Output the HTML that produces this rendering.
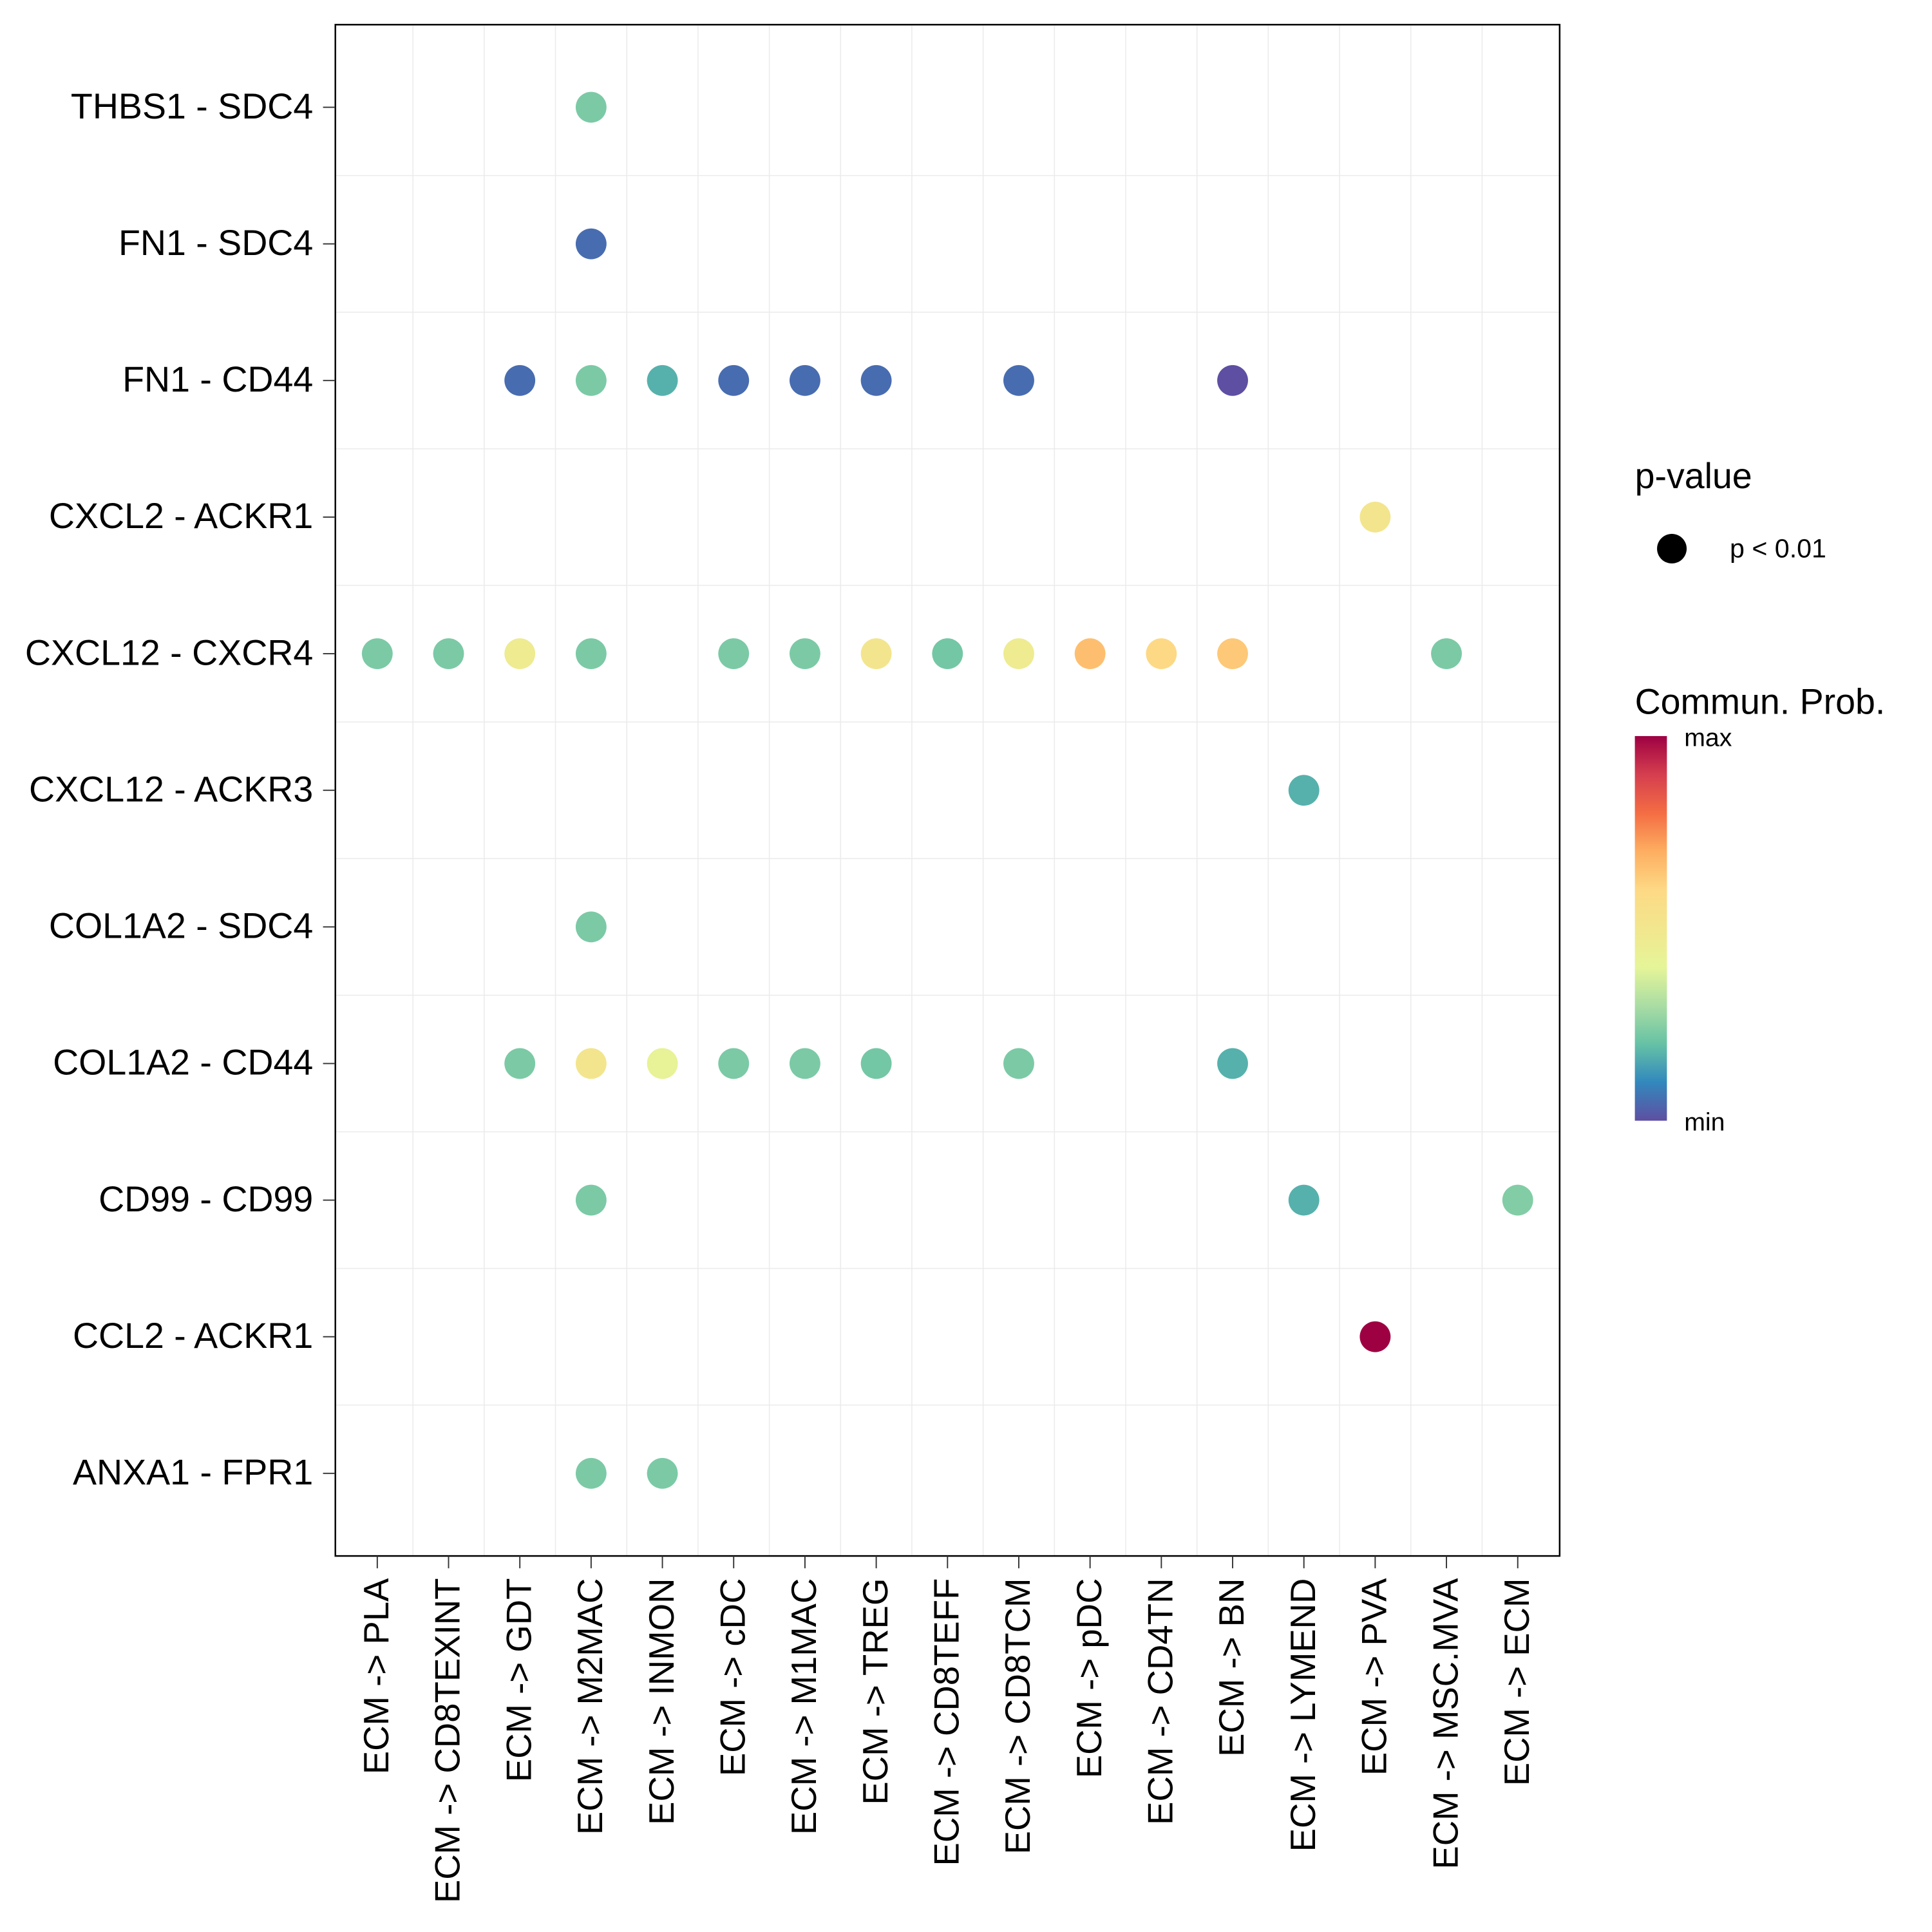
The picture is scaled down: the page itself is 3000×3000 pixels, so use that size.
<!DOCTYPE html>
<html><head><meta charset="utf-8"><style>
html,body{margin:0;padding:0;background:#fff;}
svg{display:block;font-family:"Liberation Sans",Arial,sans-serif;}
</style></head><body>
<svg id="chart" width="3000" height="3000" viewBox="0 0 1567 1567" xmlns="http://www.w3.org/2000/svg">
<defs>
<linearGradient id="spec" x1="0" y1="1" x2="0" y2="0">
<stop offset="0" stop-color="#5E4FA2"/><stop offset="0.1" stop-color="#3288BD"/><stop offset="0.2" stop-color="#66C2A5"/><stop offset="0.3" stop-color="#ABDDA4"/><stop offset="0.4" stop-color="#E6F598"/><stop offset="0.5" stop-color="#F2E68E"/><stop offset="0.6" stop-color="#FDD985"/><stop offset="0.7" stop-color="#FDAE61"/><stop offset="0.8" stop-color="#F46D43"/><stop offset="0.9" stop-color="#D53E4F"/><stop offset="1" stop-color="#9E0142"/>
</linearGradient>
</defs>
<g id="grid"></g>
<g id="dots"></g>
<rect x="272" y="20" width="993" height="1242" fill="none" stroke="#000" stroke-width="1.3"/>
<g id="axes"></g>
<g>
<text x="1326" y="396" font-size="29">p-value</text>
<circle cx="1356" cy="445" r="12" fill="#000"/>
<text x="1403" y="452" font-size="21.5">p &lt; 0.01</text>
<text x="1326" y="579" font-size="29">Commun. Prob.</text>
<rect x="1326" y="597" width="26" height="312" fill="url(#spec)"/>
<text x="1366" y="605" font-size="20.5">max</text>
<text x="1366" y="917" font-size="20.5">min</text>
</g>
</svg>
<script>
const rows = ["THBS1 - SDC4","FN1 - SDC4","FN1 - CD44","CXCL2 - ACKR1","CXCL12 - CXCR4","CXCL12 - ACKR3","COL1A2 - SDC4","COL1A2 - CD44","CD99 - CD99","CCL2 - ACKR1","ANXA1 - FPR1"];
const cols = ["PLA","CD8TEXINT","GDT","M2MAC","INMON","cDC","M1MAC","TREG","CD8TEFF","CD8TCM","pDC","CD4TN","BN","LYMEND","PVA","MSC.MVA","ECM"];
const ptRow = [0,1,2,2,2,2,2,2,2,2,3,4,4,4,4,4,4,4,4,4,4,4,4,4,5,6,7,7,7,7,7,7,7,7,8,8,8,9,10,10];
const ptCol = [3,3,2,3,4,5,6,7,9,12,14,0,1,2,3,5,6,7,8,9,10,11,12,15,13,3,2,3,4,5,6,7,9,12,3,13,16,14,3,4];
const ptVal = [.23,.05,.05,.23,.17,.05,.05,.05,.05,0,.51,.23,.23,.47,.23,.23,.23,.51,.22,.47,.66,.6,.64,.23,.17,.23,.23,.51,.42,.23,.23,.22,.23,.17,.23,.17,.24,1,.23,.23];

const NS="http://www.w3.org/2000/svg";
const x0=306, dx=(1231-306)/16, y0=87, dy=(1195-87)/10;
const xs=i=>x0+i*dx, ys=i=>y0+i*dy;
const stops=["#5E4FA2","#3288BD","#66C2A5","#ABDDA4","#E6F598","#F2E68E","#FDD985","#FDAE61","#F46D43","#D53E4F","#9E0142"];
function hex(h){return [1,3,5].map(k=>parseInt(h.substr(k,2),16));}
function color(v){v=Math.max(0,Math.min(1,v))*10;const i=Math.min(9,Math.floor(v)),t=v-i;const a=hex(stops[i]),b=hex(stops[i+1]);return "rgb("+a.map((c,k)=>Math.round(c+(b[k]-c)*t)).join(",")+")";}
function mk(tag,attrs,parent){const e=document.createElementNS(NS,tag);for(const k in attrs)e.setAttribute(k,attrs[k]);parent.appendChild(e);return e;}
const grid=document.getElementById("grid"),dots=document.getElementById("dots"),axes=document.getElementById("axes");
for(let i=0;i<cols.length-1;i++){const l=mk("line",{x1:xs(i)+dx/2,x2:xs(i)+dx/2,y1:20,y2:1262,stroke:"#ebebeb","stroke-width":0.8},grid);

}
for(let i=0;i<rows.length-1;i++){const l=mk("line",{x1:272,x2:1265,y1:ys(i)+dy/2,y2:ys(i)+dy/2,stroke:"#ebebeb","stroke-width":0.8},grid);

}
rows.forEach((r,i)=>{
const t=mk("line",{x1:262,x2:272,y1:ys(i),y2:ys(i),stroke:"#333","stroke-width":1},axes);


const tx=mk("text",{x:254,y:ys(i)+9,"text-anchor":"end","font-size":"29",fill:"#000"},axes);tx.textContent=r;


});
cols.forEach((c,i)=>{
const t=mk("line",{x1:xs(i),x2:xs(i),y1:1262,y2:1272,stroke:"#333","stroke-width":1},axes);


const tx=mk("text",{transform:"translate("+(xs(i)+9)+",1280) rotate(-90)","text-anchor":"end","font-size":"28.5",fill:"#000"},axes);tx.textContent="ECM -> "+c;


});
ptVal.forEach((v,k)=>{
const d=mk("circle",{cx:xs(ptCol[k]),cy:ys(ptRow[k]),r:12.5,fill:color(v)},dots);


});
</script>
</body></html>
